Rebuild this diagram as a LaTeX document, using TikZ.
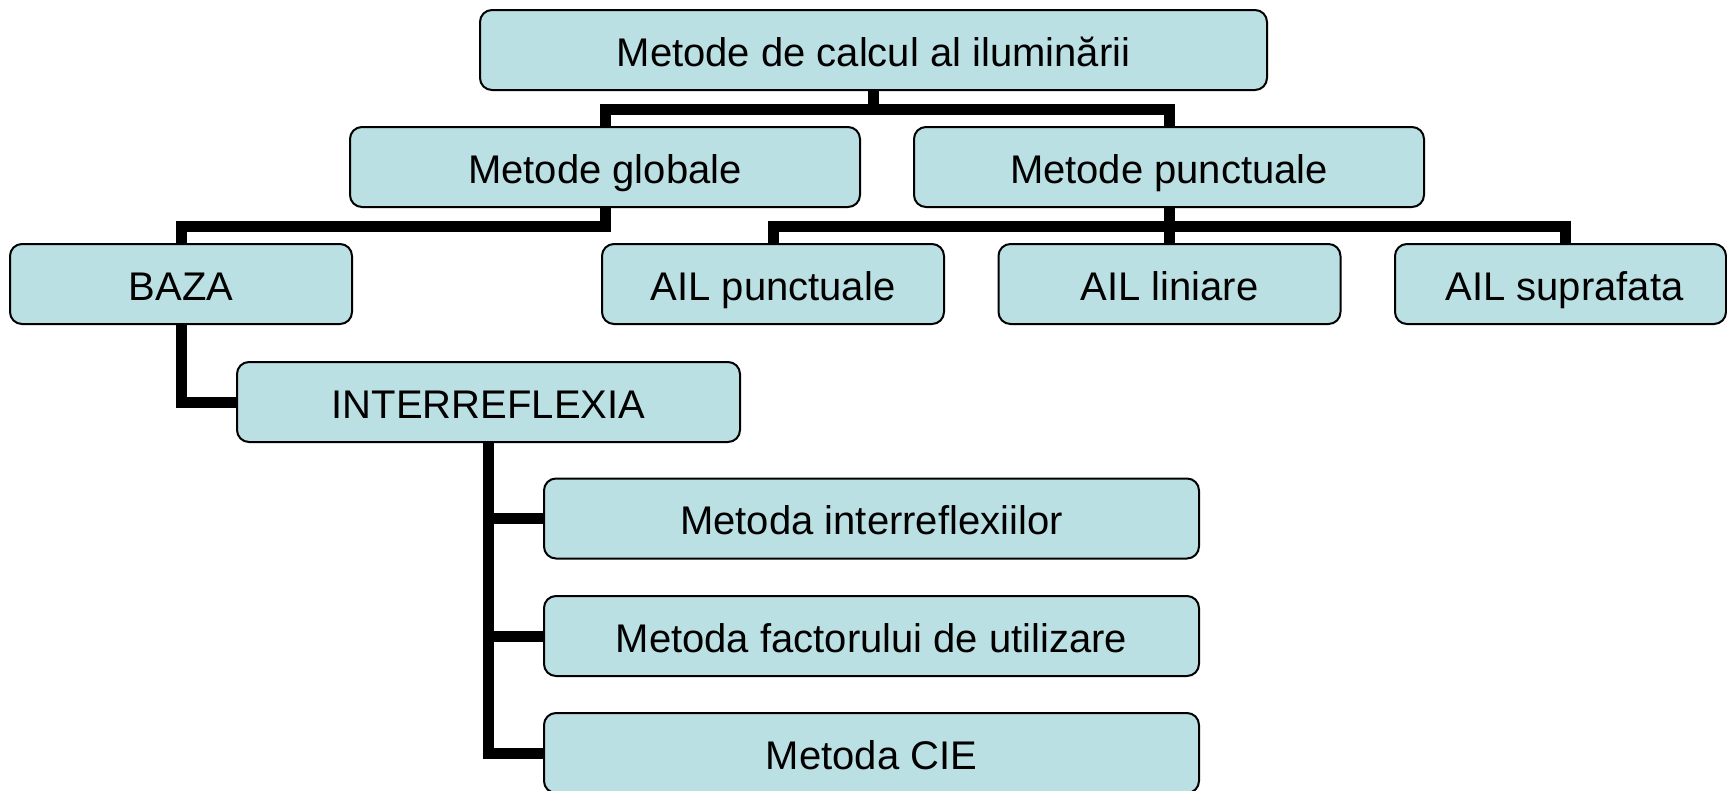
\documentclass[tikz,border=0pt]{standalone}
\usepackage{fontspec}
\setmainfont{Liberation Sans}
\definecolor{boxfill}{RGB}{187,224,227}
\tikzset{
  box/.style={draw=black, line width=2pt, fill=boxfill, rounded corners=12pt,
    minimum height=80pt, inner sep=0pt, text height=32pt, text depth=0pt,
    font=\fontsize{40}{46}\selectfont},
  conn/.style={line width=11pt, line join=miter, line cap=butt},
}
\begin{document}
\begin{tikzpicture}[x=1pt, y=-1pt]
  \useasboundingbox (0,0) rectangle (1727,790);
  % level 0
  \node[box, minimum width=787pt] (top) at (873.5,50) {Metode de calcul al iluminării};
  % level 1
  \node[box, minimum width=510pt] (glob) at (605,167) {Metode globale};
  \node[box, minimum width=510pt] (punct) at (1169,167) {Metode punctuale};
  % level 2
  \node[box, minimum width=342pt] (baza) at (181,284) {BAZA};
  \node[box, minimum width=342pt] (ailp) at (773,284) {AIL punctuale};
  \node[box, minimum width=342pt] (aill) at (1169.5,284) {AIL liniare};
  \node[box, minimum width=331pt] (ails) at (1560.5,284) {\hspace{8pt}AIL suprafata};
  % level 3
  \node[box, minimum width=503pt] (inter) at (488.5,402) {INTERREFLEXIA};
  % level 4
  \node[box, minimum width=655pt] (m1) at (871.5,518.5) {Metoda interreflexiilor};
  \node[box, minimum width=655pt] (m2) at (871.5,636) {Metoda factorului de utilizare};
  \node[box, minimum width=655pt] (m3) at (871.5,753) {Metoda CIE};
  % bus heights
  \coordinate (b1) at (0,109);
  \coordinate (b2) at (0,226.5);
  % connectors
  \draw[conn] (top.south) -- (top.south |- b1);
  \draw[conn] (glob.north) |- (punct.north |- b1) -- (punct.north);
  \draw[conn] (glob.south) |- (baza.north |- b2) -- (baza.north);
  \draw[conn] (punct.south) -- (punct.south |- b2);
  \draw[conn] ([xshift=5pt]ails.north) |- (ailp.north |- b2) -- (ailp.north);
  \draw[conn] (aill.north) -- (aill.north |- b2);
  \draw[conn] (baza.south) |- (inter.west);
  \draw[conn] (inter.south) |- (m3.west);
  \draw[conn] (m1.west) -- (m1.west -| inter.south);
  \draw[conn] (m2.west) -- (m2.west -| inter.south);
\end{tikzpicture}
\end{document}
